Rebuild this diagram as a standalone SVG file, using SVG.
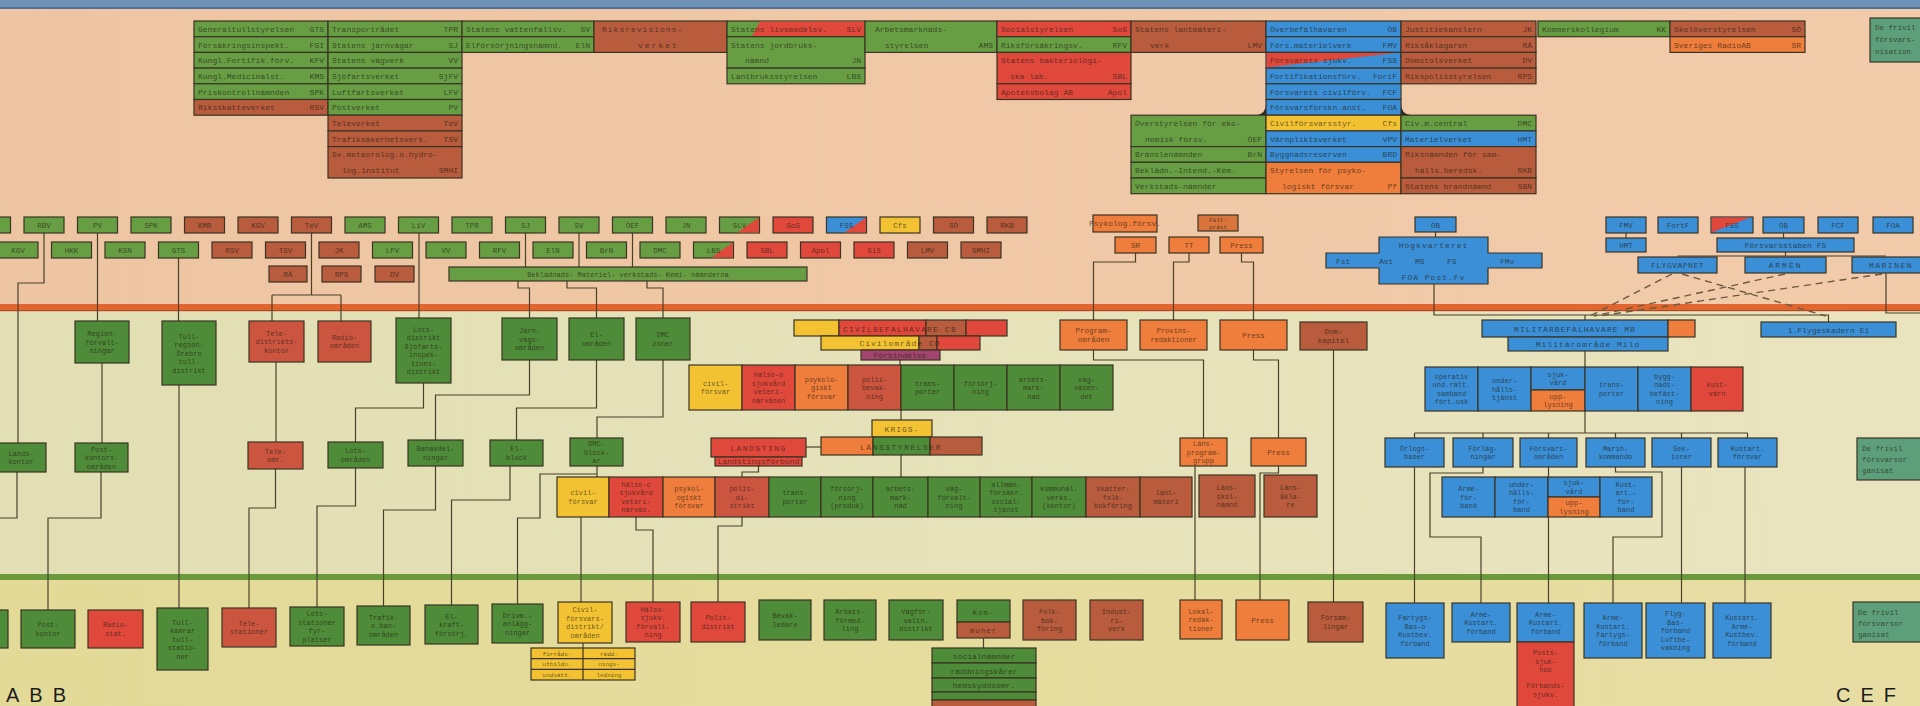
<svg xmlns="http://www.w3.org/2000/svg" width="1920" height="706" viewBox="0 0 1920 706">
<defs>
<linearGradient id="gTop" x1="0" x2="1"><stop offset="0" stop-color="#edc5a2"/><stop offset="1" stop-color="#f2cbab"/></linearGradient>
<linearGradient id="gMid" x1="0" x2="1"><stop offset="0" stop-color="#e2dfb4"/><stop offset="1" stop-color="#e9e4be"/></linearGradient>
<linearGradient id="gBot" x1="0" x2="1"><stop offset="0" stop-color="#e3da98"/><stop offset="1" stop-color="#e8dea4"/></linearGradient>
<style>
.g{fill:#679e44}.gd{fill:#4f8c39}.r{fill:#e1483c}.rb{fill:#cc5540}.b{fill:#b85c3d}.o{fill:#ef7d3b}.ob{fill:#d9743c}.y{fill:#f2c232}.bl{fill:#3b8fd6}.t{fill:#5c9f7a}.p{fill:#a3446e}
.n rect,.n path{stroke:#3a3424;stroke-width:1.2}
text{font-family:"Liberation Mono","DejaVu Sans Mono",monospace;font-size:8px;fill:#1f1b10;fill-opacity:.68}
.m{text-anchor:middle}.e{text-anchor:end}
.s{font-size:7px}.xs{font-size:6px}.s75{font-size:7.5px}
.ln{fill:none;stroke:#4b4129;stroke-width:1.2}
.da{fill:none;stroke:#6e5a3e;stroke-width:1.4;stroke-dasharray:7 5}
.big{font-family:"Liberation Sans",Arial,sans-serif;font-size:20px;fill:#1c1c1c;fill-opacity:1}
</style>
</defs>

<g id="background">
<rect width="1920" height="706" fill="url(#gMid)"/>
<rect width="1920" height="305" fill="url(#gTop)"/>
<rect width="1920" height="8" fill="#6f91b8"/>
<rect y="7" width="1920" height="2" fill="#4d6f98"/>
<rect y="304" width="1920" height="7" fill="#e1652f"/>
<rect y="310" width="1920" height="1.2" fill="#b04a24"/>
<rect y="579" width="1920" height="127" fill="url(#gBot)"/>
<rect y="574" width="1920" height="6" fill="#6a9a3c"/>
</g>

<g id="connectors">
<path class="ln" d="M44,233V283H18V443"/>
<path class="ln" d="M97.5,233V321"/>
<path class="ln" d="M178.5,258V321"/>
<path class="ln" d="M311.5,233V295M272,295H341M272,295V321M341,295V321"/>
<path class="ln" d="M419,233V318"/>
<path class="ln" d="M525.5,233V267"/>
<path class="ln" d="M579,233V267"/>
<path class="ln" d="M632.5,233V267"/>
<path class="ln" d="M518,281V288H529.5V318"/>
<path class="ln" d="M567,281V288H596.5V318"/>
<path class="ln" d="M647,281V288H663V318"/>
<path class="ln" d="M102,363V443"/>
<path class="ln" d="M179,385V608"/>
<path class="ln" d="M276,362V442"/>
<path class="ln" d="M423.5,383V408H355.5V442"/>
<path class="ln" d="M529.5,360V395H435.5V440"/>
<path class="ln" d="M596.5,360V408H516.5V440"/>
<path class="ln" d="M663,360V417H597V438"/>
<path class="ln" d="M17,472V518H0"/>
<path class="ln" d="M101,472V518H48V610"/>
<path class="ln" d="M275.5,469V508H249V608"/>
<path class="ln" d="M355.5,468V506H317V607"/>
<path class="ln" d="M435.5,466V510H383.5V606"/>
<path class="ln" d="M510,466V500H451.5V605"/>
<path class="ln" d="M597,466V477"/>
<path class="ln" d="M597,474H540V518H517.5V604"/>
<path class="ln" d="M900,360V365"/>
<path class="ln" d="M901,410V420"/>
<path class="ln" d="M901,455V477"/>
<path class="ln" d="M806,447H821" stroke="#8a8470"/>
<path class="ln" d="M758.5,466V472H742V477"/>
<path class="ln" d="M581,517V602"/>
<path class="ln" d="M636,517V530H653V602"/>
<path class="ln" d="M742,517V526H718V602"/>
<path class="ln" d="M583,643V648"/>
<path class="ln" d="M983.5,638V648"/>
<path class="ln" d="M1135.5,253V262H1093.5V320"/>
<path class="ln" d="M1189,253V262H1173.5V320"/>
<path class="ln" d="M1241.5,253V262H1253.5V320"/>
<path class="ln" d="M1093.5,350V360H1203.5V438"/>
<path class="ln" d="M1253.5,350V360H1278.5V438"/>
<path class="ln" d="M1333.5,350V602"/>
<path class="ln" d="M1195,466V600"/>
<path class="ln" d="M1278.5,466V473H1260V600"/>
<path class="ln" d="M1435.5,232V237"/>
<path class="ln" d="M1434,284V315H1828.5V322"/>
<path class="ln" d="M1585,315V320"/>
<path class="ln" d="M1585,351V367"/>
<path class="ln" d="M1585,411V433M1414.5,433H1747.5M1414.5,433V438M1483,433V438M1548.5,433V438M1615.5,433V438M1681.5,433V438M1747.5,433V438"/>
<path class="ln" d="M1414.5,467V603"/>
<path class="ln" d="M1483,467V473H1430V537H1481V603"/>
<path class="ln" d="M1548.5,467V477M1548.5,517V603"/>
<path class="ln" d="M1615.5,467V472H1662V537H1613V603"/>
<path class="ln" d="M1681.5,467V603"/>
<path class="ln" d="M1745,467V603"/>
<path class="ln" d="M1626,233V238"/>
<path class="ln" d="M1783.5,233V238"/>
<path class="ln" d="M1785.5,252V256M1677.5,256H1886"/>
<path class="ln" d="M1886,273V313H1920"/>
<path class="da" d="M1672,274L1590,316"/>
<path class="da" d="M1682,274L1826,316"/>
<path class="da" d="M1785,274L1594,316"/>
<path class="da" d="M1882,274L1599,316"/>
<path d="M1256,115.2Q1266,114 1266,104V115.2Z" fill="#2d2a20"/>
<path d="M1411,115.2Q1401,114 1401,104V115.2Z" fill="#2d2a20"/>
</g>

<g id="nodes">
<g id="n-gts" class="n"><rect class="g" x="194" y="21" width="134" height="15.7"/><text x="198" y="31.8">Generaltullstyrelsen</text><text class="e" x="324" y="31.8">GTS</text></g>
<g id="n-fsi" class="n"><rect class="g" x="194" y="36.7" width="134" height="15.7"/><text x="198" y="47.5">Försäkringsinspekt.</text><text class="e" x="324" y="47.5">FSI</text></g>
<g id="n-kfv" class="n"><rect class="g" x="194" y="52.4" width="134" height="15.7"/><text x="198" y="63.2">Kungl.Fortifik.förv.</text><text class="e" x="324" y="63.2">KFV</text></g>
<g id="n-kms" class="n"><rect class="g" x="194" y="68.1" width="134" height="15.7"/><text x="198" y="78.9">Kungl.Medicinalst.</text><text class="e" x="324" y="78.9">KMS</text></g>
<g id="n-spk" class="n"><rect class="g" x="194" y="83.8" width="134" height="15.7"/><text x="198" y="94.6">Priskontrollnämnden</text><text class="e" x="324" y="94.6">SPK</text></g>
<g id="n-rsv" class="n"><rect class="b" x="194" y="99.5" width="134" height="15.7"/><text x="198" y="110.3">Riksskatteverket</text><text class="e" x="324" y="110.3">RSV</text></g>
<g id="n-tpr" class="n"><rect class="g" x="328" y="21" width="134" height="15.7"/><text x="332" y="31.8">Transportrådet</text><text class="e" x="458" y="31.8">TPR</text></g>
<g id="n-sj" class="n"><rect class="g" x="328" y="36.7" width="134" height="15.7"/><text x="332" y="47.5">Statens järnvägar</text><text class="e" x="458" y="47.5">SJ</text></g>
<g id="n-vv" class="n"><rect class="g" x="328" y="52.4" width="134" height="15.7"/><text x="332" y="63.2">Statens vägverk</text><text class="e" x="458" y="63.2">VV</text></g>
<g id="n-sjfv" class="n"><rect class="g" x="328" y="68.1" width="134" height="15.7"/><text x="332" y="78.9">Sjöfartsverket</text><text class="e" x="458" y="78.9">SjFV</text></g>
<g id="n-lfv" class="n"><rect class="g" x="328" y="83.8" width="134" height="15.7"/><text x="332" y="94.6">Luftfartsverket</text><text class="e" x="458" y="94.6">LFV</text></g>
<g id="n-pv" class="n"><rect class="g" x="328" y="99.5" width="134" height="15.7"/><text x="332" y="110.3">Postverket</text><text class="e" x="458" y="110.3">PV</text></g>
<g id="n-tev" class="n"><rect class="b" x="328" y="115.2" width="134" height="15.7"/><text x="332" y="126">Televerket</text><text class="e" x="458" y="126">TeV</text></g>
<g id="n-tsv" class="n"><rect class="b" x="328" y="130.9" width="134" height="15.7"/><text x="332" y="141.7">Trafiksäkerhetsverk.</text><text class="e" x="458" y="141.7">TSV</text></g>
<g id="n-smhi" class="n"><rect class="b" x="328" y="146.6" width="134" height="31.4"/><text x="332" y="157.4">Sv.meteorolog.o.hydro-</text><text x="342" y="173.1">log.institut</text><text class="e" x="458" y="173.1">SMHI</text></g>
<g id="n-sv" class="n"><rect class="g" x="462" y="21" width="132" height="15.7"/><text x="466" y="31.8">Statens vattenfallsv.</text><text class="e" x="590" y="31.8">SV</text></g>
<g id="n-eln" class="n"><rect class="g" x="462" y="36.7" width="132" height="15.7"/><text x="466" y="47.5">Elförsörjningsnämnd.</text><text class="e" x="590" y="47.5">ElN</text></g>
<g id="n-rrv" class="n"><rect class="b" x="594" y="21" width="133" height="31.4"/><text x="602" y="31.8" letter-spacing="1">Riksrevisions-</text><text x="638" y="47.5" letter-spacing="2">verket</text></g>
<g id="n-slv" class="n"><rect class="g" x="727" y="21" width="138" height="15.7"/><polygon class="r" points="760,21.6 864.4,21.6 864.4,36.1 752,36.1"/><text x="731" y="31.8">Statens livsmedelsv.</text><text class="e" x="861" y="31.8">SLV</text></g>
<g id="n-jn" class="n"><rect class="g" x="727" y="36.7" width="138" height="31.4"/><text x="731" y="47.5">Statens jordbruks-</text><text x="745" y="63.2">nämnd</text><text class="e" x="861" y="63.2">JN</text></g>
<g id="n-lbs" class="n"><rect class="g" x="727" y="68.1" width="138" height="15.7"/><text x="731" y="78.9">Lantbruksstyrelsen</text><text class="e" x="861" y="78.9">LBS</text></g>
<g id="n-ams" class="n"><rect class="g" x="865" y="21" width="132" height="31.4"/><text x="875" y="31.8">Arbetsmarknads-</text><text x="885" y="47.5">styrelsen</text><text class="e" x="993" y="47.5">AMS</text></g>
<g id="n-sos" class="n"><rect class="r" x="997" y="21" width="134" height="15.7"/><text x="1001" y="31.8">Socialstyrelsen</text><text class="e" x="1127" y="31.8">SoS</text></g>
<g id="n-rfv" class="n"><rect class="g" x="997" y="36.7" width="134" height="15.7"/><text x="1001" y="47.5">Riksförsäkringsv.</text><text class="e" x="1127" y="47.5">RFV</text></g>
<g id="n-sbl" class="n"><rect class="r" x="997" y="52.4" width="134" height="31.4"/><text x="1001" y="63.2">Statens bakteriologi-</text><text x="1010" y="78.9">ska lab.</text><text class="e" x="1127" y="78.9">SBL</text></g>
<g id="n-apol" class="n"><rect class="r" x="997" y="83.8" width="134" height="15.7"/><text x="1001" y="94.6">Apoteksbolag AB</text><text class="e" x="1127" y="94.6">Apol</text></g>
<g id="n-lmv" class="n"><rect class="b" x="1131" y="21" width="135" height="31.4"/><text x="1135" y="31.8">Statens lantmäteri-</text><text x="1150" y="47.5">verk</text><text class="e" x="1262" y="47.5">LMV</text></g>
<g id="n-ob" class="n"><rect class="bl" x="1266" y="21" width="135" height="15.7"/><text x="1270" y="31.8">Överbefälhavaren</text><text class="e" x="1397" y="31.8">ÖB</text></g>
<g id="n-fmv" class="n"><rect class="bl" x="1266" y="36.7" width="135" height="15.7"/><text x="1270" y="47.5">Förs.materielverk</text><text class="e" x="1397" y="47.5">FMV</text></g>
<g id="n-fss" class="n"><rect class="bl" x="1266" y="52.4" width="135" height="15.7"/><polygon class="r" points="1266.6,53 1396,53 1266.6,67.5"/><text x="1270" y="63.2">Försvarets sjukv.</text><text class="e" x="1397" y="63.2">FSS</text></g>
<g id="n-fortf" class="n"><rect class="bl" x="1266" y="68.1" width="135" height="15.7"/><text x="1270" y="78.9">Fortifikationsförv.</text><text class="e" x="1397" y="78.9">FortF</text></g>
<g id="n-fcf" class="n"><rect class="bl" x="1266" y="83.8" width="135" height="15.7"/><text x="1270" y="94.6">Försvarets civilförv.</text><text class="e" x="1397" y="94.6">FCF</text></g>
<g id="n-foa" class="n"><rect class="bl" x="1266" y="99.5" width="135" height="15.7"/><text x="1270" y="110.3">Försvarsforskn.anst.</text><text class="e" x="1397" y="110.3">FOA</text></g>
<g id="n-jk" class="n"><rect class="b" x="1401" y="21" width="135" height="15.7"/><text x="1405" y="31.8">Justitiekanslern</text><text class="e" x="1532" y="31.8">JK</text></g>
<g id="n-ra" class="n"><rect class="b" x="1401" y="36.7" width="135" height="15.7"/><text x="1405" y="47.5">Riksåklagaren</text><text class="e" x="1532" y="47.5">RÅ</text></g>
<g id="n-dv" class="n"><rect class="b" x="1401" y="52.4" width="135" height="15.7"/><text x="1405" y="63.2">Domstolsverket</text><text class="e" x="1532" y="63.2">DV</text></g>
<g id="n-rps" class="n"><rect class="b" x="1401" y="68.1" width="135" height="15.7"/><text x="1405" y="78.9">Rikspolisstyrelsen</text><text class="e" x="1532" y="78.9">RPS</text></g>
<g id="n-kk" class="n"><rect class="g" x="1538" y="21" width="132" height="15.7"/><text x="1542" y="31.8">Kommerskollegium</text><text class="e" x="1666" y="31.8">KK</text></g>
<g id="n-so" class="n"><rect class="b" x="1670" y="21" width="135" height="15.7"/><text x="1674" y="31.8">Skolöverstyrelsen</text><text class="e" x="1801" y="31.8">SÖ</text></g>
<g id="n-sr" class="n"><rect class="o" x="1670" y="36.7" width="135" height="15.7"/><text x="1674" y="47.5">Sveriges RadioAB</text><text class="e" x="1801" y="47.5">SR</text></g>
<g id="n-frivtop" class="n"><rect class="t" x="1870" y="18" width="60" height="44"/><text class="s75" x="1875" y="30">De frivil</text><text class="s75" x="1875" y="42">försvars-</text><text class="s75" x="1875" y="54">nisation</text></g>
<g id="n-oef" class="n"><rect class="g" x="1131" y="115.2" width="135" height="31.4"/><text x="1135" y="126">Överstyrelsen för eko-</text><text x="1145" y="141.7">nomisk försv.</text><text class="e" x="1262" y="141.7">ÖEF</text></g>
<g id="n-brn" class="n"><rect class="g" x="1131" y="146.6" width="135" height="15.7"/><text x="1135" y="157.4">Bränslenämnden</text><text class="e" x="1262" y="157.4">BrN</text></g>
<g id="n-bekl" class="n"><rect class="g" x="1131" y="162.3" width="135" height="15.7"/><text x="1135" y="173.1">Beklädn.-Intend.-Kem.</text></g>
<g id="n-verk" class="n"><rect class="g" x="1131" y="178" width="135" height="15.7"/><text x="1135" y="188.8">Verkstads-nämnder</text></g>
<g id="n-cfs" class="n"><rect class="y" x="1266" y="115.2" width="135" height="15.7"/><text x="1270" y="126">Civilförsvarsstyr.</text><text class="e" x="1397" y="126">Cfs</text></g>
<g id="n-vpv" class="n"><rect class="bl" x="1266" y="130.9" width="135" height="15.7"/><text x="1270" y="141.7">Värnpliktsverket</text><text class="e" x="1397" y="141.7">VPV</text></g>
<g id="n-brd" class="n"><rect class="bl" x="1266" y="146.6" width="135" height="15.7"/><text x="1270" y="157.4">Byggnadsreserven</text><text class="e" x="1397" y="157.4">BRD</text></g>
<g id="n-pf" class="n"><rect class="o" x="1266" y="162.3" width="135" height="31.4"/><text x="1270" y="173.1">Styrelsen för psyko-</text><text x="1282" y="188.8">logiskt försvar</text><text class="e" x="1397" y="188.8">Pf</text></g>
<g id="n-dmc" class="n"><rect class="g" x="1401" y="115.2" width="135" height="15.7"/><text x="1405" y="126">Civ.m.central</text><text class="e" x="1532" y="126">DMC</text></g>
<g id="n-hmt" class="n"><rect class="bl" x="1401" y="130.9" width="135" height="15.7"/><text x="1405" y="141.7">Materielverket</text><text class="e" x="1532" y="141.7">HMT</text></g>
<g id="n-rkb" class="n"><rect class="b" x="1401" y="146.6" width="135" height="31.4"/><text x="1405" y="157.4">Riksnämnden för sam-</text><text x="1415" y="173.1">hälls.beredsk.</text><text class="e" x="1532" y="173.1">RKB</text></g>
<g id="n-sbn" class="n"><rect class="b" x="1401" y="178" width="135" height="15.7"/><text x="1405" y="188.8">Statens brandnämnd</text><text class="e" x="1532" y="188.8">SBN</text></g>

<g id="s1-0" class="n"><rect class="g" x="-29.5" y="217" width="40" height="16"/></g>
<g id="s1-rbv" class="n"><rect class="g" x="24" y="217" width="40" height="16"/><text class="m s75" x="44" y="228">RBV</text></g>
<g id="s1-pv" class="n"><rect class="g" x="77.5" y="217" width="40" height="16"/><text class="m s75" x="97.5" y="228">PV</text></g>
<g id="s1-spk" class="n"><rect class="g" x="131" y="217" width="40" height="16"/><text class="m s75" x="151" y="228">SPK</text></g>
<g id="s1-kmb" class="n"><rect class="b" x="184.5" y="217" width="40" height="16"/><text class="m s75" x="204.5" y="228">KMB</text></g>
<g id="s1-kgv" class="n"><rect class="b" x="238" y="217" width="40" height="16"/><text class="m s75" x="258" y="228">KGV</text></g>
<g id="s1-tev" class="n"><rect class="b" x="291.5" y="217" width="40" height="16"/><text class="m s75" x="311.5" y="228">TeV</text></g>
<g id="s1-ams" class="n"><rect class="g" x="345" y="217" width="40" height="16"/><text class="m s75" x="365" y="228">AMS</text></g>
<g id="s1-liv" class="n"><rect class="g" x="398.5" y="217" width="40" height="16"/><text class="m s75" x="418.5" y="228">LiV</text></g>
<g id="s1-tpr" class="n"><rect class="g" x="452" y="217" width="40" height="16"/><text class="m s75" x="472" y="228">TPR</text></g>
<g id="s1-sj" class="n"><rect class="g" x="505.5" y="217" width="40" height="16"/><text class="m s75" x="525.5" y="228">SJ</text></g>
<g id="s1-sv" class="n"><rect class="g" x="559" y="217" width="40" height="16"/><text class="m s75" x="579" y="228">SV</text></g>
<g id="s1-oef" class="n"><rect class="g" x="612.5" y="217" width="40" height="16"/><text class="m s75" x="632.5" y="228">ÖEF</text></g>
<g id="s1-jn" class="n"><rect class="g" x="666" y="217" width="40" height="16"/><text class="m s75" x="686" y="228">JN</text></g>
<g id="s1-slv" class="n"><rect class="g" x="719.5" y="217" width="40" height="16"/><polygon class="r" points="737.5,232.4 758.9,217.6 758.9,232.4"/><text class="m s75" x="739.5" y="228">SLV</text></g>
<g id="s1-sos" class="n"><rect class="r" x="773" y="217" width="40" height="16"/><text class="m s75" x="793" y="228">SoS</text></g>
<g id="s1-fss" class="n"><rect class="bl" x="826.5" y="217" width="40" height="16"/><polygon class="r" points="844.5,232.4 865.9,217.6 865.9,232.4"/><text class="m s75" x="846.5" y="228">FSS</text></g>
<g id="s1-cfs" class="n"><rect class="y" x="880" y="217" width="40" height="16"/><text class="m s75" x="900" y="228">Cfs</text></g>
<g id="s1-so" class="n"><rect class="b" x="933.5" y="217" width="40" height="16"/><text class="m s75" x="953.5" y="228">SÖ</text></g>
<g id="s1-rkb" class="n"><rect class="b" x="987" y="217" width="40" height="16"/><text class="m s75" x="1007" y="228">RKB</text></g>
<g id="s2-kgv" class="n"><rect class="g" x="-2" y="242" width="40" height="16"/><text class="m s75" x="18" y="253">KGV</text></g>
<g id="s2-hkk" class="n"><rect class="g" x="51.5" y="242" width="40" height="16"/><text class="m s75" x="71.5" y="253">HKK</text></g>
<g id="s2-ksn" class="n"><rect class="g" x="105" y="242" width="40" height="16"/><text class="m s75" x="125" y="253">KSN</text></g>
<g id="s2-gts" class="n"><rect class="g" x="158.5" y="242" width="40" height="16"/><text class="m s75" x="178.5" y="253">GTS</text></g>
<g id="s2-rsv" class="n"><rect class="b" x="212" y="242" width="40" height="16"/><text class="m s75" x="232" y="253">RSV</text></g>
<g id="s2-tsv" class="n"><rect class="b" x="265.5" y="242" width="40" height="16"/><text class="m s75" x="285.5" y="253">TSV</text></g>
<g id="s2-jk" class="n"><rect class="b" x="319" y="242" width="40" height="16"/><text class="m s75" x="339" y="253">JK</text></g>
<g id="s2-lfv" class="n"><rect class="g" x="372.5" y="242" width="40" height="16"/><text class="m s75" x="392.5" y="253">LFV</text></g>
<g id="s2-vv" class="n"><rect class="g" x="426" y="242" width="40" height="16"/><text class="m s75" x="446" y="253">VV</text></g>
<g id="s2-rfv" class="n"><rect class="g" x="479.5" y="242" width="40" height="16"/><text class="m s75" x="499.5" y="253">RFV</text></g>
<g id="s2-eln" class="n"><rect class="g" x="533" y="242" width="40" height="16"/><text class="m s75" x="553" y="253">ElN</text></g>
<g id="s2-brn" class="n"><rect class="g" x="586.5" y="242" width="40" height="16"/><text class="m s75" x="606.5" y="253">BrN</text></g>
<g id="s2-dmc" class="n"><rect class="g" x="640" y="242" width="40" height="16"/><text class="m s75" x="660" y="253">DMC</text></g>
<g id="s2-lbs" class="n"><rect class="g" x="693.5" y="242" width="40" height="16"/><polygon class="r" points="711.5,257.4 732.9,242.6 732.9,257.4"/><text class="m s75" x="713.5" y="253">LBS</text></g>
<g id="s2-sbl" class="n"><rect class="r" x="747" y="242" width="40" height="16"/><text class="m s75" x="767" y="253">SBL</text></g>
<g id="s2-apol" class="n"><rect class="r" x="800.5" y="242" width="40" height="16"/><text class="m s75" x="820.5" y="253">Apol</text></g>
<g id="s2-sis" class="n"><rect class="r" x="854" y="242" width="40" height="16"/><text class="m s75" x="874" y="253">SiS</text></g>
<g id="s2-lmv" class="n"><rect class="b" x="907.5" y="242" width="40" height="16"/><text class="m s75" x="927.5" y="253">LMV</text></g>
<g id="s2-smhi" class="n"><rect class="b" x="961" y="242" width="40" height="16"/><text class="m s75" x="981" y="253">SMHI</text></g>
<g id="s3-ra" class="n"><rect class="b" x="269" y="266" width="38" height="16"/><text class="m s75" x="288" y="277">RÅ</text></g>
<g id="s3-rps" class="n"><rect class="b" x="322" y="266" width="39" height="16"/><text class="m s75" x="341.5" y="277">RPS</text></g>
<g id="s3-dv" class="n"><rect class="b" x="375" y="266" width="39" height="16"/><text class="m s75" x="394.5" y="277">DV</text></g>
<g id="s3-bar" class="n"><rect class="g" x="449" y="267" width="358" height="14"/><text class="m s" x="628" y="277">Beklädnads- Materiel- verkstads- Kemi- nämnderna</text></g>

<g id="m-psyk" class="n"><rect class="o" x="1093" y="215" width="64" height="17"/><text class="m" x="1125" y="226" font-size="6.5">Psykolog.försv.</text></g>
<g id="m-falt" class="n"><rect class="ob" x="1198" y="215" width="40" height="16"/><text class="m xs" x="1218" y="222.3">Fält-</text><text class="m xs" x="1218" y="229.3">präst</text></g>
<g id="m-sr" class="n"><rect class="o" x="1115" y="237" width="41" height="16"/><text class="m s75" x="1135.5" y="248">SR</text></g>
<g id="m-tt" class="n"><rect class="o" x="1169" y="237" width="40" height="16"/><text class="m s75" x="1189" y="248">TT</text></g>
<g id="m-press" class="n"><rect class="o" x="1220" y="237" width="43" height="16"/><text class="m s75" x="1241.5" y="248">Press</text></g>

<g id="mil-ob" class="n"><rect class="bl" x="1415" y="217" width="41" height="15"/><text class="m s75" x="1435.5" y="227.5">ÖB</text></g>
<g id="mil-hkv" class="n"><path class="bl" d="M1379,237H1488V253H1542V268H1488V284H1379V268H1326V253H1379Z"/><text class="m" x="1433.5" y="248" letter-spacing="1">Högkvarteret</text><text x="1336" y="263.5">Fst</text><text x="1379" y="263.5">Ast</text><text x="1415" y="263.5">MS</text><text x="1447" y="263.5">FS</text><text x="1500" y="263.5">FMv</text><text class="m" x="1433.5" y="279.5" letter-spacing="1">FOA Post.Fv</text></g>
<g id="r-fmv" class="n"><rect class="bl" x="1606" y="217" width="40" height="16"/><text class="m s75" x="1626" y="228">FMV</text></g>
<g id="r-fortf" class="n"><rect class="bl" x="1658" y="217" width="40" height="16"/><text class="m s75" x="1678" y="228">FortF</text></g>
<g id="r-fss" class="n"><rect class="bl" x="1711" y="217" width="42" height="16"/><polygon class="r" points="1711.6,217.6 1750,217.6 1711.6,232.4"/><text class="m s75" x="1732" y="228">FSS</text></g>
<g id="r-ob" class="n"><rect class="bl" x="1763" y="217" width="41" height="16"/><text class="m s75" x="1783.5" y="228">ÖB</text></g>
<g id="r-fcf" class="n"><rect class="bl" x="1818" y="217" width="40" height="16"/><text class="m s75" x="1838" y="228">FCF</text></g>
<g id="r-foa" class="n"><rect class="bl" x="1873" y="217" width="40" height="16"/><text class="m s75" x="1893" y="228">FOA</text></g>
<g id="r-hmt" class="n"><rect class="bl" x="1606" y="238" width="40" height="14"/><text class="m s75" x="1626" y="248">HMT</text></g>
<g id="r-fs" class="n"><rect class="bl" x="1717" y="238" width="137" height="14"/><text class="m" x="1785.5" y="248">Försvarsstaben  FS</text></g>
<g id="r-flyg" class="n"><rect class="bl" x="1638" y="257" width="79" height="16"/><text class="m" x="1677.5" y="268" letter-spacing="0.5">FLYGVAPNET</text></g>
<g id="r-armen" class="n"><rect class="bl" x="1745" y="257" width="81" height="16"/><text class="m" x="1785.5" y="268" letter-spacing="2">ARMÉN</text></g>
<g id="r-marin" class="n"><rect class="bl" x="1852" y="257" width="80" height="16"/><text class="m" x="1891" y="268" letter-spacing="1.5">MARINEN</text></g>

<g id="u-region" class="n"><rect class="gd" x="75" y="321" width="54" height="42"/><text class="m s" x="102"><tspan x="102" y="336">Region-</tspan><tspan x="102" y="344.5">förvalt-</tspan><tspan x="102" y="353">ningar</tspan></text></g>
<g id="u-tull" class="n"><rect class="gd" x="162" y="321" width="54" height="64"/><text class="m s" x="189"><tspan x="189" y="338.5">Tull-</tspan><tspan x="189" y="347">region-</tspan><tspan x="189" y="355.5">Örebro</tspan><tspan x="189" y="364">tull-</tspan><tspan x="189" y="372.5">distrikt</tspan></text></g>
<g id="u-tele" class="n"><rect class="rb" x="249" y="321" width="55" height="41"/><text class="m s" x="276.5"><tspan x="276.5" y="335.5">Tele-</tspan><tspan x="276.5" y="344">distrikts-</tspan><tspan x="276.5" y="352.5">kontor</tspan></text></g>
<g id="u-radio" class="n"><rect class="rb" x="318" y="321" width="53" height="41"/><text class="m s" x="344.5"><tspan x="344.5" y="339.75">Radio-</tspan><tspan x="344.5" y="348.25">områden</tspan></text></g>
<g id="u-lots" class="n"><rect class="gd" x="396" y="318" width="55" height="65"/><text class="m s" x="423.5"><tspan x="423.5" y="331.75">Lots-</tspan><tspan x="423.5" y="340.25">distrikt</tspan><tspan x="423.5" y="348.75">Sjöfarts-</tspan><tspan x="423.5" y="357.25">inspek-</tspan><tspan x="423.5" y="365.75">tions-</tspan><tspan x="423.5" y="374.25">distrikt</tspan></text></g>
<g id="u-jarn" class="n"><rect class="gd" x="502" y="318" width="55" height="42"/><text class="m s" x="529.5"><tspan x="529.5" y="333">Järn-</tspan><tspan x="529.5" y="341.5">vägs-</tspan><tspan x="529.5" y="350">områden</tspan></text></g>
<g id="u-el" class="n"><rect class="gd" x="569" y="318" width="55" height="42"/><text class="m s" x="596.5"><tspan x="596.5" y="337.25">El-</tspan><tspan x="596.5" y="345.75">områden</tspan></text></g>
<g id="u-dmc" class="n"><rect class="gd" x="636" y="318" width="54" height="42"/><text class="m s" x="663"><tspan x="663" y="337.25">DMC</tspan><tspan x="663" y="345.75">zoner</tspan></text></g>

<g id="l-lands" class="n"><rect class="gd" x="-4" y="443" width="50" height="29"/><text class="m s" x="21"><tspan x="21" y="455.75">Lands-</tspan><tspan x="21" y="464.25">kontor</tspan></text></g>
<g id="l-post" class="n"><rect class="gd" x="75" y="443" width="53" height="29"/><text class="m s" x="101.5"><tspan x="101.5" y="451.5">Post-</tspan><tspan x="101.5" y="460">kontors-</tspan><tspan x="101.5" y="468.5">områden</tspan></text></g>
<g id="l-tele" class="n"><rect class="rb" x="248" y="442" width="55" height="27"/><text class="m s" x="275.5"><tspan x="275.5" y="453.75">Tele-</tspan><tspan x="275.5" y="462.25">omr.</tspan></text></g>
<g id="l-lots" class="n"><rect class="gd" x="328" y="442" width="55" height="26"/><text class="m s" x="355.5"><tspan x="355.5" y="453.25">Lots-</tspan><tspan x="355.5" y="461.75">områden</tspan></text></g>
<g id="l-ban" class="n"><rect class="gd" x="408" y="440" width="55" height="26"/><text class="m s" x="435.5"><tspan x="435.5" y="451.25">Banavdel-</tspan><tspan x="435.5" y="459.75">ningar</tspan></text></g>
<g id="l-el" class="n"><rect class="gd" x="490" y="440" width="53" height="26"/><text class="m s" x="516.5"><tspan x="516.5" y="451.25">El-</tspan><tspan x="516.5" y="459.75">block</tspan></text></g>
<g id="l-dmc" class="n"><rect class="gd" x="570" y="438" width="53" height="28"/><text class="m s" x="596.5"><tspan x="596.5" y="446">DMC-</tspan><tspan x="596.5" y="454.5">block-</tspan><tspan x="596.5" y="463">ar</tspan></text></g>

<g id="c-cb" class="n"><rect class="y" x="794" y="320" width="45" height="16"/><rect class="r" x="839" y="320" width="87" height="16"/><rect class="b" x="926" y="320" width="40" height="16"/><rect class="r" x="966" y="320" width="41" height="16"/><text class="m" x="900" y="331.5" font-size="9" letter-spacing="1.2">CIVILBEFÄLHAVARE  CB</text></g>
<g id="c-co" class="n"><rect class="y" x="821" y="336" width="98" height="14"/><rect class="b" x="919" y="336" width="18" height="14"/><rect class="r" x="937" y="336" width="43" height="14"/><text class="m" x="900" y="346" letter-spacing="1">Civilområde  CO</text></g>
<g id="c-forb" class="n"><rect class="p" x="861" y="350" width="79" height="10"/><text class="m" x="900" y="357.6" font-size="6">Förbindelse</text></g>
<g id="c-f0" class="n"><rect class="y" x="689" y="365" width="53" height="45"/><text class="m s" x="715.5"><tspan x="715.5" y="385.75">civil-</tspan><tspan x="715.5" y="394.25">försvar</tspan></text></g>
<g id="c-f1" class="n"><rect class="r" x="742" y="365" width="53" height="45"/><text class="m s" x="768.5"><tspan x="768.5" y="377.25">hälso-o</tspan><tspan x="768.5" y="385.75">sjukvård</tspan><tspan x="768.5" y="394.25">veteri-</tspan><tspan x="768.5" y="402.75">närväsen</tspan></text></g>
<g id="c-f2" class="n"><rect class="o" x="795" y="365" width="53" height="45"/><text class="m s" x="821.5"><tspan x="821.5" y="381.5">psykolo-</tspan><tspan x="821.5" y="390">giskt</tspan><tspan x="821.5" y="398.5">försvar</tspan></text></g>
<g id="c-f3" class="n"><rect class="rb" x="848" y="365" width="53" height="45"/><text class="m s" x="874.5"><tspan x="874.5" y="381.5">polis-</tspan><tspan x="874.5" y="390">bevak-</tspan><tspan x="874.5" y="398.5">ning</tspan></text></g>
<g id="c-f4" class="n"><rect class="gd" x="901" y="365" width="53" height="45"/><text class="m s" x="927.5"><tspan x="927.5" y="385.75">trans-</tspan><tspan x="927.5" y="394.25">porter</tspan></text></g>
<g id="c-f5" class="n"><rect class="gd" x="954" y="365" width="53" height="45"/><text class="m s" x="980.5"><tspan x="980.5" y="385.75">försörj-</tspan><tspan x="980.5" y="394.25">ning</tspan></text></g>
<g id="c-f6" class="n"><rect class="gd" x="1007" y="365" width="53" height="45"/><text class="m s" x="1033.5"><tspan x="1033.5" y="381.5">arbets-</tspan><tspan x="1033.5" y="390">mark-</tspan><tspan x="1033.5" y="398.5">nad</tspan></text></g>
<g id="c-f7" class="n"><rect class="gd" x="1060" y="365" width="53" height="45"/><text class="m s" x="1086.5"><tspan x="1086.5" y="381.5">väg-</tspan><tspan x="1086.5" y="390">väsen-</tspan><tspan x="1086.5" y="398.5">det</tspan></text></g>
<g id="c-krigs" class="n"><rect class="y" x="872" y="420" width="60" height="17"/><text class="m" x="902" y="431.5" letter-spacing="1">KRIGS-</text></g>
<g id="c-lst" class="n"><rect class="o" x="821" y="437" width="52" height="18"/><rect class="gd" x="873" y="437" width="57" height="18"/><rect class="b" x="930" y="437" width="52" height="18"/><text class="m" x="901" y="449.5" font-size="8.5" letter-spacing="1.5">LÄNSSTYRELSER</text></g>
<g id="c-landsting" class="n"><rect class="r" x="711" y="438" width="95" height="19"/><rect class="r" x="715" y="457" width="87" height="9"/><text class="m" x="758.5" y="450.5" letter-spacing="1.5">LANDSTING</text><text class="m" x="758.5" y="464" font-size="5.5">Landstingsförbund</text></g>

<g id="q-civ" class="n"><rect class="y" x="557" y="477" width="52" height="40"/><text class="m s" x="583"><tspan x="583" y="495.25">civil-</tspan><tspan x="583" y="503.75">försvar</tspan></text></g>
<g id="q-hal" class="n"><rect class="r" x="609" y="477" width="54" height="40"/><text class="m s" x="636"><tspan x="636" y="486.75">hälso-o</tspan><tspan x="636" y="495.25">sjukvård</tspan><tspan x="636" y="503.75">veteri-</tspan><tspan x="636" y="512.25">närväs.</tspan></text></g>
<g id="q-psy" class="n"><rect class="o" x="663" y="477" width="52" height="40"/><text class="m s" x="689"><tspan x="689" y="491">psykol-</tspan><tspan x="689" y="499.5">ogiskt</tspan><tspan x="689" y="508">försvar</tspan></text></g>
<g id="q-pol" class="n"><rect class="rb" x="715" y="477" width="54" height="40"/><text class="m s" x="742"><tspan x="742" y="491">polis-</tspan><tspan x="742" y="499.5">di-</tspan><tspan x="742" y="508">strikt</tspan></text></g>
<g id="q-tra" class="n"><rect class="gd" x="769" y="477" width="52" height="40"/><text class="m s" x="795"><tspan x="795" y="495.25">trans-</tspan><tspan x="795" y="503.75">porter</tspan></text></g>
<g id="q-for" class="n"><rect class="gd" x="821" y="477" width="52" height="40"/><text class="m s" x="847"><tspan x="847" y="491">försörj-</tspan><tspan x="847" y="499.5">ning</tspan><tspan x="847" y="508">(produk)</tspan></text></g>
<g id="q-arb" class="n"><rect class="gd" x="873" y="477" width="55" height="40"/><text class="m s" x="900.5"><tspan x="900.5" y="491">arbets-</tspan><tspan x="900.5" y="499.5">mark-</tspan><tspan x="900.5" y="508">nad</tspan></text></g>
<g id="q-vag" class="n"><rect class="gd" x="928" y="477" width="52" height="40"/><text class="m s" x="954"><tspan x="954" y="491">väg-</tspan><tspan x="954" y="499.5">förvalt-</tspan><tspan x="954" y="508">ning</tspan></text></g>
<g id="q-all" class="n"><rect class="gd" x="980" y="477" width="52" height="40"/><text class="m s" x="1006"><tspan x="1006" y="486.75">allmän-</tspan><tspan x="1006" y="495.25">försäkr.</tspan><tspan x="1006" y="503.75">social-</tspan><tspan x="1006" y="512.25">tjänst</tspan></text></g>
<g id="q-kom" class="n"><rect class="gd" x="1032" y="477" width="54" height="40"/><text class="m s" x="1059"><tspan x="1059" y="491">kommunal-</tspan><tspan x="1059" y="499.5">verks.</tspan><tspan x="1059" y="508">(kontor)</tspan></text></g>
<g id="q-ska" class="n"><rect class="b" x="1086" y="477" width="54" height="40"/><text class="m s" x="1113"><tspan x="1113" y="491">skatter-</tspan><tspan x="1113" y="499.5">folk-</tspan><tspan x="1113" y="508">bokföring</tspan></text></g>
<g id="q-lan" class="n"><rect class="b" x="1140" y="477" width="52" height="40"/><text class="m s" x="1166"><tspan x="1166" y="495.25">lant-</tspan><tspan x="1166" y="503.75">mäteri</tspan></text></g>
<g id="q-skol" class="n"><rect class="b" x="1199" y="475" width="56" height="42"/><text class="m s" x="1227"><tspan x="1227" y="490">Läns-</tspan><tspan x="1227" y="498.5">skol-</tspan><tspan x="1227" y="507">nämnd</tspan></text></g>
<g id="q-akl" class="n"><rect class="b" x="1264" y="475" width="53" height="42"/><text class="m s" x="1290.5"><tspan x="1290.5" y="490">Läns-</tspan><tspan x="1290.5" y="498.5">åkla-</tspan><tspan x="1290.5" y="507">re</tspan></text></g>

<g id="p-prog" class="n"><rect class="o" x="1060" y="320" width="67" height="30"/><text class="m s75" x="1093.5"><tspan x="1093.5" y="333.25">Program-</tspan><tspan x="1093.5" y="341.75">områden</tspan></text></g>
<g id="p-prov" class="n"><rect class="o" x="1140" y="320" width="67" height="30"/><text class="m s" x="1173.5"><tspan x="1173.5" y="333.25">Provins-</tspan><tspan x="1173.5" y="341.75">redaktioner</tspan></text></g>
<g id="p-press" class="n"><rect class="o" x="1220" y="320" width="67" height="30"/><text class="m s75" x="1253.5" y="337.5">Press</text></g>
<g id="p-dom" class="n"><rect class="b" x="1300" y="322" width="67" height="28"/><text class="m s75" x="1333.5"><tspan x="1333.5" y="334.25">Dom-</tspan><tspan x="1333.5" y="342.75">kapitel</tspan></text></g>
<g id="p-lpg" class="n"><rect class="o" x="1180" y="438" width="47" height="28"/><text class="m s" x="1203.5"><tspan x="1203.5" y="446">Läns-</tspan><tspan x="1203.5" y="454.5">program-</tspan><tspan x="1203.5" y="463">grupp</tspan></text></g>
<g id="p-press2" class="n"><rect class="o" x="1251" y="438" width="55" height="28"/><text class="m s75" x="1278.5" y="454.5">Press</text></g>

<g id="mb" class="n"><rect class="bl" x="1482" y="320" width="186" height="17"/><rect class="o" x="1668" y="320" width="27" height="17"/><text class="m" x="1575" y="331.5" font-size="8.5" letter-spacing="1">MILITÄRBEFÄLHAVARE  MB</text></g>
<g id="milo" class="n"><rect class="bl" x="1508" y="337" width="160" height="14"/><text class="m" x="1588" y="347" letter-spacing="1">Militärområde  Milo</text></g>
<g id="flygesk" class="n"><rect class="bl" x="1761" y="322" width="135" height="15"/><text class="m" x="1828.5" y="332.5">1.Flygeskadern  E1</text></g>
<g id="mf0" class="n"><rect class="bl" x="1425" y="367" width="53" height="44"/><text class="m s" x="1451.5"><tspan x="1451.5" y="378.75">operativ</tspan><tspan x="1451.5" y="387.25">und.rätt.</tspan><tspan x="1451.5" y="395.75">samband</tspan><tspan x="1451.5" y="404.25">fört.usk</tspan></text></g>
<g id="mf1" class="n"><rect class="bl" x="1478" y="367" width="53" height="44"/><text class="m s" x="1504.5"><tspan x="1504.5" y="383">under-</tspan><tspan x="1504.5" y="391.5">hålls-</tspan><tspan x="1504.5" y="400">tjänst</tspan></text></g>
<g id="mf2" class="n"><rect class="bl" x="1531" y="367" width="54" height="23"/><rect class="o" x="1531" y="390" width="54" height="21"/><text class="m s" x="1558"><tspan x="1558" y="376.75">sjuk-</tspan><tspan x="1558" y="385.25">vård</tspan><tspan x="1558" y="398.75">upp-</tspan><tspan x="1558" y="407.25">lysning</tspan></text></g>
<g id="mf3" class="n"><rect class="bl" x="1585" y="367" width="53" height="44"/><text class="m s" x="1611.5"><tspan x="1611.5" y="387.25">trans-</tspan><tspan x="1611.5" y="395.75">porter</tspan></text></g>
<g id="mf4" class="n"><rect class="bl" x="1638" y="367" width="53" height="44"/><text class="m s" x="1664.5"><tspan x="1664.5" y="378.75">bygg-</tspan><tspan x="1664.5" y="387.25">nads-</tspan><tspan x="1664.5" y="395.75">befäst-</tspan><tspan x="1664.5" y="404.25">ning</tspan></text></g>
<g id="mf5" class="n"><rect class="r" x="1691" y="367" width="52" height="44"/><text class="m s" x="1717"><tspan x="1717" y="387.25">kust-</tspan><tspan x="1717" y="395.75">värn</tspan></text></g>
<g id="mu1" class="n"><rect class="bl" x="1385" y="438" width="59" height="29"/><text class="m s" x="1414.5"><tspan x="1414.5" y="450.75">Örlogs-</tspan><tspan x="1414.5" y="459.25">baser</tspan></text></g>
<g id="mu2" class="n"><rect class="bl" x="1453" y="438" width="60" height="29"/><text class="m s" x="1483"><tspan x="1483" y="450.75">Förläg-</tspan><tspan x="1483" y="459.25">ningar</tspan></text></g>
<g id="mu3" class="n"><rect class="bl" x="1520" y="438" width="57" height="29"/><text class="m s" x="1548.5"><tspan x="1548.5" y="450.75">Försvars-</tspan><tspan x="1548.5" y="459.25">områden</tspan></text></g>
<g id="mu4" class="n"><rect class="bl" x="1586" y="438" width="59" height="29"/><text class="m s" x="1615.5"><tspan x="1615.5" y="450.75">Marin-</tspan><tspan x="1615.5" y="459.25">kommando</tspan></text></g>
<g id="mu5" class="n"><rect class="bl" x="1652" y="438" width="59" height="29"/><text class="m s" x="1681.5"><tspan x="1681.5" y="450.75">Sek-</tspan><tspan x="1681.5" y="459.25">torer</tspan></text></g>
<g id="mu6" class="n"><rect class="bl" x="1718" y="438" width="59" height="29"/><text class="m s" x="1747.5"><tspan x="1747.5" y="450.75">Kustart.</tspan><tspan x="1747.5" y="459.25">försvar</tspan></text></g>
<g id="ms1" class="n"><rect class="bl" x="1442" y="477" width="53" height="40"/><text class="m s" x="1468.5"><tspan x="1468.5" y="491">Armé-</tspan><tspan x="1468.5" y="499.5">för-</tspan><tspan x="1468.5" y="508">band</tspan></text></g>
<g id="ms2" class="n"><rect class="bl" x="1495" y="477" width="53" height="40"/><text class="m s" x="1521.5"><tspan x="1521.5" y="486.75">under-</tspan><tspan x="1521.5" y="495.25">hålls-</tspan><tspan x="1521.5" y="503.75">för-</tspan><tspan x="1521.5" y="512.25">band</tspan></text></g>
<g id="ms3" class="n"><rect class="bl" x="1548" y="477" width="52" height="20"/><rect class="o" x="1548" y="497" width="52" height="20"/><text class="m s" x="1574"><tspan x="1574" y="485.25">sjuk-</tspan><tspan x="1574" y="493.75">vård</tspan><tspan x="1574" y="505.25">upp-</tspan><tspan x="1574" y="513.75">lysning</tspan></text></g>
<g id="ms4" class="n"><rect class="bl" x="1600" y="477" width="52" height="40"/><text class="m s" x="1626"><tspan x="1626" y="486.75">Kust-</tspan><tspan x="1626" y="495.25">art.-</tspan><tspan x="1626" y="503.75">för-</tspan><tspan x="1626" y="512.25">band</tspan></text></g>
<g id="friv-mid" class="n"><rect class="t" x="1857" y="438" width="70" height="42"/><text class="s75" x="1862" y="451">De frivil</text><text class="s75" x="1862" y="462">försvarsor</text><text class="s75" x="1862" y="473">ganisat</text></g>

<g id="b-a" class="n"><rect class="gd" x="-4" y="610" width="12" height="38"/></g>
<g id="b-post" class="n"><rect class="gd" x="21" y="610" width="54" height="38"/><text class="m s" x="48"><tspan x="48" y="627.25">Post-</tspan><tspan x="48" y="635.75">kontor</tspan></text></g>
<g id="b-radio" class="n"><rect class="r" x="88" y="610" width="55" height="38"/><text class="m s" x="115.5"><tspan x="115.5" y="627.25">Radio-</tspan><tspan x="115.5" y="635.75">stat.</tspan></text></g>
<g id="b-tull" class="n"><rect class="gd" x="157" y="608" width="51" height="62"/><text class="m s" x="182.5"><tspan x="182.5" y="624.5">Tull-</tspan><tspan x="182.5" y="633">kamrar</tspan><tspan x="182.5" y="641.5">tull-</tspan><tspan x="182.5" y="650">statio-</tspan><tspan x="182.5" y="658.5">ner</tspan></text></g>
<g id="b-tele" class="n"><rect class="rb" x="222" y="608" width="54" height="39"/><text class="m s" x="249"><tspan x="249" y="625.75">Tele-</tspan><tspan x="249" y="634.25">stationer</tspan></text></g>
<g id="b-lots" class="n"><rect class="gd" x="290" y="607" width="54" height="39"/><text class="m s" x="317"><tspan x="317" y="616.25">Lots-</tspan><tspan x="317" y="624.75">stationer</tspan><tspan x="317" y="633.25">fyr-</tspan><tspan x="317" y="641.75">platser</tspan></text></g>
<g id="b-trafik" class="n"><rect class="gd" x="357" y="606" width="53" height="39"/><text class="m s" x="383.5"><tspan x="383.5" y="619.5">Trafik-</tspan><tspan x="383.5" y="628">o.ban-</tspan><tspan x="383.5" y="636.5">områden</tspan></text></g>
<g id="b-el" class="n"><rect class="gd" x="425" y="605" width="53" height="39"/><text class="m s" x="451.5"><tspan x="451.5" y="618.5">El-</tspan><tspan x="451.5" y="627">kraft-</tspan><tspan x="451.5" y="635.5">försörj.</tspan></text></g>
<g id="b-drivm" class="n"><rect class="gd" x="492" y="604" width="51" height="39"/><text class="m s" x="517.5"><tspan x="517.5" y="617.5">Drivm.-</tspan><tspan x="517.5" y="626">anlägg-</tspan><tspan x="517.5" y="634.5">ningar</tspan></text></g>
<g id="b-civ" class="n"><rect class="y" x="558" y="602" width="54" height="41"/><text class="m s" x="585"><tspan x="585" y="612.25">Civil-</tspan><tspan x="585" y="620.75">försvars-</tspan><tspan x="585" y="629.25">distrikt/</tspan><tspan x="585" y="637.75">områden</tspan></text></g>
<g id="b-civtab" class="n"><rect class="y" x="531" y="648" width="104" height="32"/><path d="M583,648V680M531,658.7H635M531,669.3H635" fill="none"/><text class="m xs" x="557"><tspan x="557" y="655.5">förråds-</tspan><tspan x="557" y="666.2">utbildn.</tspan><tspan x="557" y="676.8">undsätt.</tspan></text><text class="m xs" x="609"><tspan x="609" y="655.5">rädd-</tspan><tspan x="609" y="666.2">nings-</tspan><tspan x="609" y="676.8">ledning</tspan></text></g>
<g id="b-hal" class="n"><rect class="r" x="626" y="602" width="54" height="40"/><text class="m s" x="653"><tspan x="653" y="611.75">Hälso-</tspan><tspan x="653" y="620.25">sjukv.</tspan><tspan x="653" y="628.75">förvalt-</tspan><tspan x="653" y="637.25">ning</tspan></text></g>
<g id="b-pol" class="n"><rect class="r" x="691" y="602" width="54" height="40"/><text class="m s" x="718"><tspan x="718" y="620.25">Polis-</tspan><tspan x="718" y="628.75">distrikt</tspan></text></g>
<g id="b-bev" class="n"><rect class="gd" x="759" y="600" width="52" height="40"/><text class="m s" x="785"><tspan x="785" y="618.25">Bevak-</tspan><tspan x="785" y="626.75">ledare</tspan></text></g>
<g id="b-arbf" class="n"><rect class="gd" x="824" y="600" width="52" height="40"/><text class="m s" x="850"><tspan x="850" y="614">Arbets-</tspan><tspan x="850" y="622.5">förmed-</tspan><tspan x="850" y="631">ling</tspan></text></g>
<g id="b-vagf" class="n"><rect class="gd" x="889" y="600" width="54" height="40"/><text class="m s" x="916"><tspan x="916" y="614">Vägför-</tspan><tspan x="916" y="622.5">valtn.</tspan><tspan x="916" y="631">distrikt</tspan></text></g>
<g id="b-kommuner" class="n"><rect class="gd" x="957" y="600" width="53" height="22"/><rect class="b" x="957" y="622" width="53" height="16"/><text class="m s75" x="983.5" y="614.5" letter-spacing="1">Kom-</text><text class="m s75" x="983.5" y="633" letter-spacing="1">muner</text></g>
<g id="b-komstack" class="n"><rect class="gd" x="932" y="648" width="104" height="15"/><rect class="gd" x="932" y="663" width="104" height="15"/><rect class="gd" x="932" y="678" width="104" height="14"/><rect class="gd" x="932" y="692" width="104" height="8"/><rect class="b" x="932" y="700" width="104" height="12"/><text class="m" x="984" y="658.5" font-size="6.5">socialnämnder</text><text class="m" x="984" y="673.5" font-size="6.5">räddningskårer</text><text class="m" x="984" y="688" font-size="6.5">hemskyddsomr.</text></g>
<g id="b-folk" class="n"><rect class="b" x="1023" y="600" width="53" height="40"/><text class="m s" x="1049.5"><tspan x="1049.5" y="614">Folk-</tspan><tspan x="1049.5" y="622.5">bok-</tspan><tspan x="1049.5" y="631">föring</tspan></text></g>
<g id="b-ind" class="n"><rect class="b" x="1090" y="600" width="53" height="40"/><text class="m s" x="1116.5"><tspan x="1116.5" y="614">Indust-</tspan><tspan x="1116.5" y="622.5">ri-</tspan><tspan x="1116.5" y="631">verk</tspan></text></g>
<g id="b-lokal" class="n"><rect class="o" x="1180" y="600" width="42" height="39"/><text class="m s" x="1201"><tspan x="1201" y="613.5">Lokal-</tspan><tspan x="1201" y="622">redak-</tspan><tspan x="1201" y="630.5">tioner</tspan></text></g>
<g id="b-press" class="n"><rect class="o" x="1236" y="600" width="53" height="40"/><text class="m s75" x="1262.5" y="622.5">Press</text></g>
<g id="b-forsaml" class="n"><rect class="b" x="1308" y="602" width="55" height="40"/><text class="m s" x="1335.5"><tspan x="1335.5" y="620.25">Försam-</tspan><tspan x="1335.5" y="628.75">lingar</tspan></text></g>
<g id="v1" class="n"><rect class="bl" x="1386" y="603" width="58" height="55"/><text class="m s" x="1415"><tspan x="1415" y="620.25">Fartygs-</tspan><tspan x="1415" y="628.75">Bas-o</tspan><tspan x="1415" y="637.25">Kustbev.</tspan><tspan x="1415" y="645.75">förband</tspan></text></g>
<g id="v2" class="n"><rect class="bl" x="1452" y="603" width="58" height="39"/><text class="m s" x="1481"><tspan x="1481" y="616.5">Armé-</tspan><tspan x="1481" y="625">Kustart.</tspan><tspan x="1481" y="633.5">förband</tspan></text></g>
<g id="v3" class="n"><rect class="bl" x="1517" y="603" width="57" height="39"/><rect class="r" x="1517" y="642" width="57" height="70"/><text class="m s" x="1545.5"><tspan x="1545.5" y="616.5">Armé-</tspan><tspan x="1545.5" y="625">Kustart.</tspan><tspan x="1545.5" y="633.5">förband</tspan></text><text class="m s" x="1545.5"><tspan x="1545.5" y="655">Posts-</tspan><tspan x="1545.5" y="663.5">sjuk-</tspan><tspan x="1545.5" y="672">hus</tspan><tspan x="1545.5" y="688">Förbands-</tspan><tspan x="1545.5" y="696.5">sjukv.</tspan></text></g>
<g id="v4" class="n"><rect class="bl" x="1584" y="603" width="58" height="55"/><text class="m s" x="1613"><tspan x="1613" y="620.25">Armé-</tspan><tspan x="1613" y="628.75">Kustart.</tspan><tspan x="1613" y="637.25">Fartygs-</tspan><tspan x="1613" y="645.75">förband</tspan></text></g>
<g id="v5" class="n"><rect class="bl" x="1646" y="603" width="59" height="55"/><text class="m s" x="1675.5"><tspan x="1675.5" y="616">Flyg-</tspan><tspan x="1675.5" y="624.5">Bas-</tspan><tspan x="1675.5" y="633">förband</tspan><tspan x="1675.5" y="641.5">Luftbe-</tspan><tspan x="1675.5" y="650">vakning</tspan></text></g>
<g id="v6" class="n"><rect class="bl" x="1713" y="603" width="58" height="55"/><text class="m s" x="1742"><tspan x="1742" y="620.25">Kustart.</tspan><tspan x="1742" y="628.75">Armé-</tspan><tspan x="1742" y="637.25">Kustbev.</tspan><tspan x="1742" y="645.75">förband</tspan></text></g>
<g id="friv-bot" class="n"><rect class="t" x="1853" y="602" width="74" height="40"/><text class="s75" x="1858" y="615">De frivil</text><text class="s75" x="1858" y="626">försvarsor</text><text class="s75" x="1858" y="637">ganisat</text></g>
</g>

<g id="captions">
<text class="big" x="6" y="702" letter-spacing="10">ABB</text>
<text class="big" x="1836" y="702" letter-spacing="10">CEF</text>
</g>
</svg>
